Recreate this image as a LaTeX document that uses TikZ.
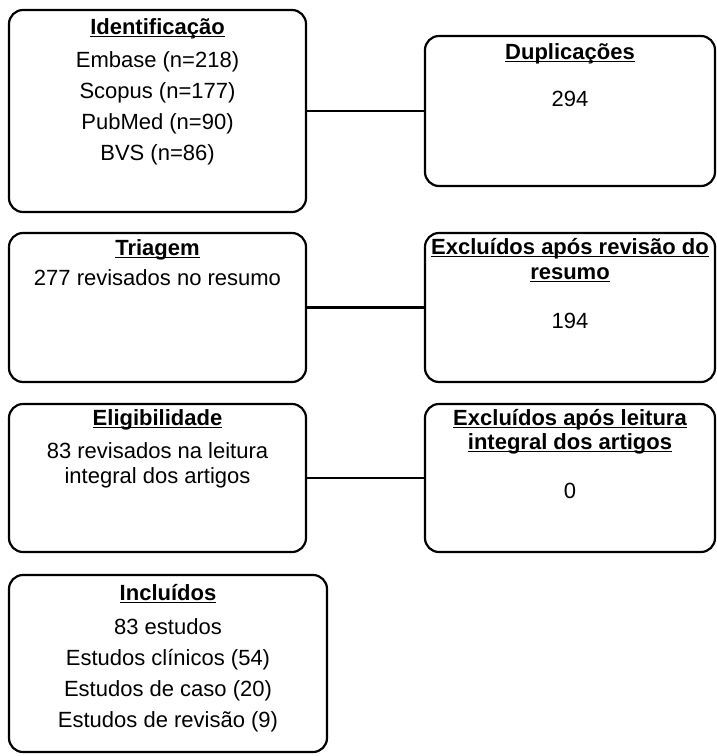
\documentclass[tikz,border=0pt]{standalone}
\usepackage{fontspec}
\setmainfont{Liberation Sans}
\usetikzlibrary{positioning}

% bold heading with a close underline
\newcommand\headul[1]{\setbox0=\hbox{#1}\rlap{\rule[-3.4pt]{\wd0}{1.9pt}}\box0}

% multi-line nodes sit on the baseline of their last line
\tikzset{
  stage/.style={draw, line width=2.2pt, rounded corners=14pt, inner sep=0pt},
  head/.style={font=\fontsize{22}{25}\selectfont\bfseries, anchor=base, align=center, inner sep=0pt},
  body/.style={font=\fontsize{22}{30.5}\selectfont, anchor=base, align=center, inner sep=0pt},
  link/.style={line width=2.2pt},
}

\begin{document}
\begin{tikzpicture}[x=1pt,y=-1pt]
\useasboundingbox (0,0) rectangle (716,756);
% Boxes
\node[stage, minimum width=297pt, minimum height=202pt] (ident) at (157.5,111) {};
\node[stage, minimum width=290pt, minimum height=150pt] (dup) at (570,111) {};
\node[stage, minimum width=297pt, minimum height=149pt] (triagem) at (157.5,307.5) {};
\node[stage, minimum width=290pt, minimum height=149pt] (excres) at (570,307.5) {};
\node[stage, minimum width=297pt, minimum height=148pt] (eleg) at (157.5,478) {};
\node[stage, minimum width=290pt, minimum height=148pt] (excint) at (570,478) {};
\node[stage, minimum width=318pt, minimum height=177pt] (incl) at (168,663.5) {};
% Connectors
\draw[link] (ident.east) -- (dup.west);
\draw[link] (triagem.east) -- (excres.west);
\draw[link] (eleg.east) -- (excint.west);
% Identificacao
\node[head] (identhead) at (157.5,34) {\headul{Identificação}};
\node[body, font=\fontsize{22}{31}\selectfont] (identtxt) at (157.5,160) {Embase (n=218)\\Scopus (n=177)\\PubMed (n=90)\\BVS (n=86)};
% Duplicacoes
\node[head] (duphead) at (570,59) {\headul{Duplicações}};
\node[body] (duptxt) at (570,106) {294};
% Triagem
\node[head] (triagemhead) at (157.5,255) {\headul{Triagem}};
\node[body] (triagemtxt) at (157.5,285) {277 revisados no resumo};
\node[head, font=\fontsize{22}{25}\selectfont\bfseries] (excreshead) at (570,279) {\headul{Excluídos após revisão do}\\\headul{resumo}};
\node[body] (excrestxt) at (570,328) {194};
% Eligibilidade
\node[head] (eleghead) at (157.5,425) {\headul{Eligibilidade}};
\node[body, font=\fontsize{22}{25}\selectfont] (elegtxt) at (157.5,483) {83 revisados na leitura\\integral dos artigos};
\node[head, font=\fontsize{22}{24}\selectfont\bfseries] (excinthead) at (570,449) {\headul{Excluídos após leitura}\\\headul{integral dos artigos}};
\node[body] (excinttxt) at (570,498) {0};
% Incluidos
\node[head] (inclhead) at (168,600) {\headul{Incluídos}};
\node[body, font=\fontsize{22}{31}\selectfont] (incltxt) at (168,727) {83 estudos\\Estudos clínicos (54)\\Estudos de caso (20)\\Estudos de revisão (9)};
\end{tikzpicture}
\end{document}
